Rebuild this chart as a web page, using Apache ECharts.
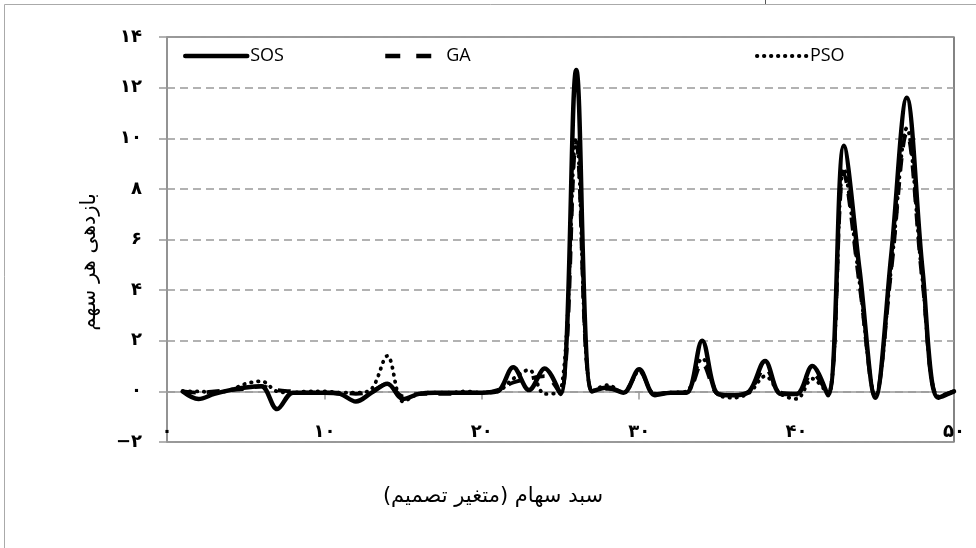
<!DOCTYPE html>
<html>
<head>
<meta charset="utf-8">
<script src="https://cdn.jsdelivr.net/npm/echarts@6/dist/echarts.min.js"></script>
<style>
html,body{margin:0;padding:0;background:#fff;}
#c{width:976px;height:548px;}
</style>
</head>
<body>
<div id="c"></div>
<script>
// ---- data ----
const xValues = [1,2,3,4,5,6,7,8,9,10,11,12,13,14,15,16,17,18,19,20,21,22,23,24,25,26,27,28,29,30,31,32,33,34,35,36,37,38,39,40,41,42,43,44,45,46,47,48,49,50];
const sosValues = [0.0,-0.3,-0.1,0.05,0.15,0.2,-0.7,-0.05,-0.05,-0.05,-0.1,-0.4,-0.05,0.3,-0.3,-0.1,-0.05,-0.05,-0.05,-0.05,0.0,0.95,0.05,0.9,-0.1,12.7,0.0,0.15,-0.05,0.87,-0.15,-0.05,-0.05,2.0,-0.1,-0.15,0.0,1.2,-0.1,-0.1,1.0,-0.15,9.7,4.8,-0.25,5.3,11.6,4.8,-0.25,0.0];
const gaValues  = [0.0,-0.05,0.0,0.05,0.1,0.2,0.05,0.0,-0.05,-0.05,-0.05,-0.1,0.0,0.3,-0.2,-0.1,-0.1,-0.1,-0.05,-0.05,0.05,0.35,0.5,0.6,-0.1,9.8,0.0,0.1,0.0,0.8,-0.1,-0.05,-0.05,1.1,-0.1,-0.15,0.0,0.9,-0.05,-0.1,0.7,-0.1,8.6,4.2,-0.2,4.7,10.2,4.3,-0.2,0.0];
const psoValues = [0.0,0.0,-0.05,0.05,0.3,0.4,0.0,-0.05,0.0,0.0,-0.05,-0.05,0.1,1.4,-0.4,-0.1,-0.05,-0.05,0.0,-0.05,0.0,0.5,0.85,-0.1,0.0,10.0,0.0,0.25,-0.05,0.8,-0.1,-0.05,0.0,1.3,-0.1,-0.25,-0.05,0.6,-0.1,-0.3,0.5,-0.1,8.8,4.3,-0.2,4.8,10.4,4.4,-0.2,0.0];
const seriesNames = ['SOS','GA','PSO'];
const xTickValues = [0,10,20,30,40,50];
const xTickLabels = ['۰','۱۰','۲۰','۳۰','۴۰','۵۰'];
const yTickValues = [-2,0,2,4,6,8,10,12,14];
const yTickLabels = ['−۲','۰','۲','۴','۶','۸','۱۰','۱۲','۱۴'];
const xTitle = 'سبد سهام (متغیر تصمیم)';
const yTitle = 'بازدهی هر سهم';

function pairs(vals){ return xValues.map((x,i)=>[x, vals[i]]); }
function lbl(values, labels){ return v => { const i = values.indexOf(Math.round(v)); return i>=0 ? labels[i] : ''; }; }

const SM = 0.35;
const chart = echarts.init(document.getElementById('c'), null, {renderer:'canvas'});
const legendText = {fontFamily:'Open Sans', fontSize:18, color:'#000'};
const hiddenSymbol = {opacity:0, color:'rgba(0,0,0,0)', borderWidth:0};
chart.setOption({
  animation:false,
  backgroundColor:'#fff',
  grid:{left:167, right:22, top:37, bottom:106, show:true, borderColor:'#333', borderWidth:1.2, backgroundColor:'transparent'},
  legend:[
    {data:[seriesNames[0]], left:183, top:47, itemWidth:62, itemHeight:16, itemGap:0, textStyle:Object.assign({padding:[0,0,0,-2]},legendText), padding:0, itemStyle:hiddenSymbol, lineStyle:{width:4.5}},
    {data:[seriesNames[1]], left:383, top:47, itemWidth:46, itemHeight:16, textStyle:Object.assign({padding:[0,0,0,10]},legendText), padding:0, itemStyle:hiddenSymbol, lineStyle:{width:4.5, type:[15,16]}},
    {data:[seriesNames[2]], left:755, top:47, itemWidth:50, itemHeight:16, textStyle:Object.assign({padding:[0,0,0,-2]},legendText), padding:0, itemStyle:hiddenSymbol, lineStyle:{width:3.8}}
  ],
  xAxis:{
    type:'value', min:0, max:50, interval:10,
    axisLine:{show:true, onZero:true, lineStyle:{color:'#999', width:1.5}},
    axisTick:{show:true, length:8, lineStyle:{color:'#999', width:1.5}},
    axisLabel:{margin:-19, formatter:lbl(xTickValues,xTickLabels), fontFamily:'DejaVu Sans', fontWeight:'bold', fontSize:18, color:'#000'},
    splitLine:{show:false}
  },
  yAxis:{
    type:'value', min:-2, max:14, interval:2,
    axisLine:{show:true, lineStyle:{color:'#999', width:1.5}},
    axisTick:{show:true, length:8, lineStyle:{color:'#999', width:1.5}},
    axisLabel:{margin:25, formatter:lbl(yTickValues,yTickLabels), fontFamily:'DejaVu Sans', fontWeight:'bold', fontSize:18, color:'#000'},
    splitLine:{show:true, lineStyle:{color:'#999', width:1.5, type:[8,5]}}
  },
  series:[
    {name:seriesNames[0], type:'line', data:pairs(sosValues), smooth:SM, showSymbol:false, symbol:'none', z:3,
     lineStyle:{color:'#000', width:4.5, cap:'round', join:'round'}, itemStyle:{color:'#000'}},
    {name:seriesNames[1], type:'line', data:pairs(gaValues), smooth:SM, showSymbol:false, symbol:'none', z:4,
     lineStyle:{color:'#000', width:3.8, type:[13,11]}, itemStyle:{color:'#000'}},
    {name:seriesNames[2], type:'line', data:pairs(psoValues), smooth:SM, showSymbol:false, symbol:'none', z:5,
     lineStyle:{color:'#000', width:3.8, type:[0.5,6.5], cap:'round'}, itemStyle:{color:'#000'}}
  ],
  graphic:[
    {type:'rect', shape:{x:4.5, y:4.5, width:1000, height:1000}, style:{fill:'none', stroke:'#aaa', lineWidth:1}, silent:true},
    {type:'line', shape:{x1:765.5, y1:0, x2:765.5, y2:4}, style:{stroke:'#555', lineWidth:1}, silent:true},
    {type:'text', x:493, y:497, style:{text:xTitle, font:'21px "DejaVu Sans"', fill:'#000', textAlign:'center', textVerticalAlign:'middle'}},
    {type:'text', rotation:Math.PI/2, x:90, y:262, style:{text:yTitle, font:'21px "DejaVu Sans"', fill:'#000', textAlign:'center', textVerticalAlign:'middle'}}
  ]
});
</script>
</body>
</html>
